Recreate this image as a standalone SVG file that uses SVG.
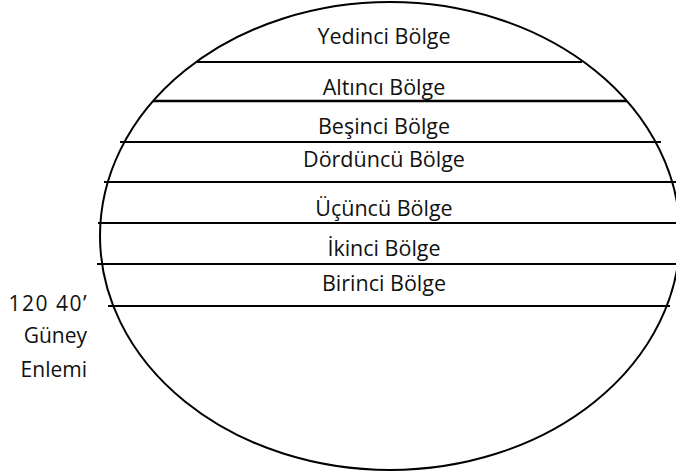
<svg xmlns="http://www.w3.org/2000/svg" width="676" height="473" viewBox="0 0 676 473">
<style>
.ln{stroke:#000;stroke-width:2;fill:none}
.t{font-family:"Open Sans","DejaVu Sans",sans-serif;font-size:21.5px;fill:#111;text-anchor:middle}
.l{font-family:"Open Sans","DejaVu Sans",sans-serif;font-size:21px;fill:#111;text-anchor:end}
</style>
<rect width="676" height="473" fill="#fff"/>
<g id="ellipse"><ellipse class="ln" cx="390" cy="236" rx="290" ry="234"/></g>
<g id="bands">
<line class="ln" x1="197" y1="62" x2="582" y2="62"/>
<line class="ln" x1="153" y1="101" x2="627" y2="101" style="stroke-width:2.5"/>
<line class="ln" x1="120" y1="142" x2="661" y2="142"/>
<line class="ln" x1="104" y1="182" x2="676" y2="182"/>
<line class="ln" x1="98" y1="223" x2="676" y2="223"/>
<line class="ln" x1="97" y1="264" x2="676" y2="264"/>
<line class="ln" x1="108" y1="306" x2="670" y2="306"/>
</g>
<g id="labels">
<text class="t" x="384" y="44">Yedinci Bölge</text>
<text class="t" x="384" y="95">Altıncı Bölge</text>
<text class="t" x="384" y="134">Beşinci Bölge</text>
<text class="t" x="384" y="167">Dördüncü Bölge</text>
<text class="t" x="384" y="216">Üçüncü Bölge</text>
<text class="t" x="384" y="256">İkinci Bölge</text>
<text class="t" x="384" y="291">Birinci Bölge</text>
</g>
<g id="latitude">
<text class="l" x="88" y="311" style="letter-spacing:1.5px">120 40’</text>
<text class="l" x="87" y="343">Güney</text>
<text class="l" x="87" y="377">Enlemi</text>
</g>
</svg>
